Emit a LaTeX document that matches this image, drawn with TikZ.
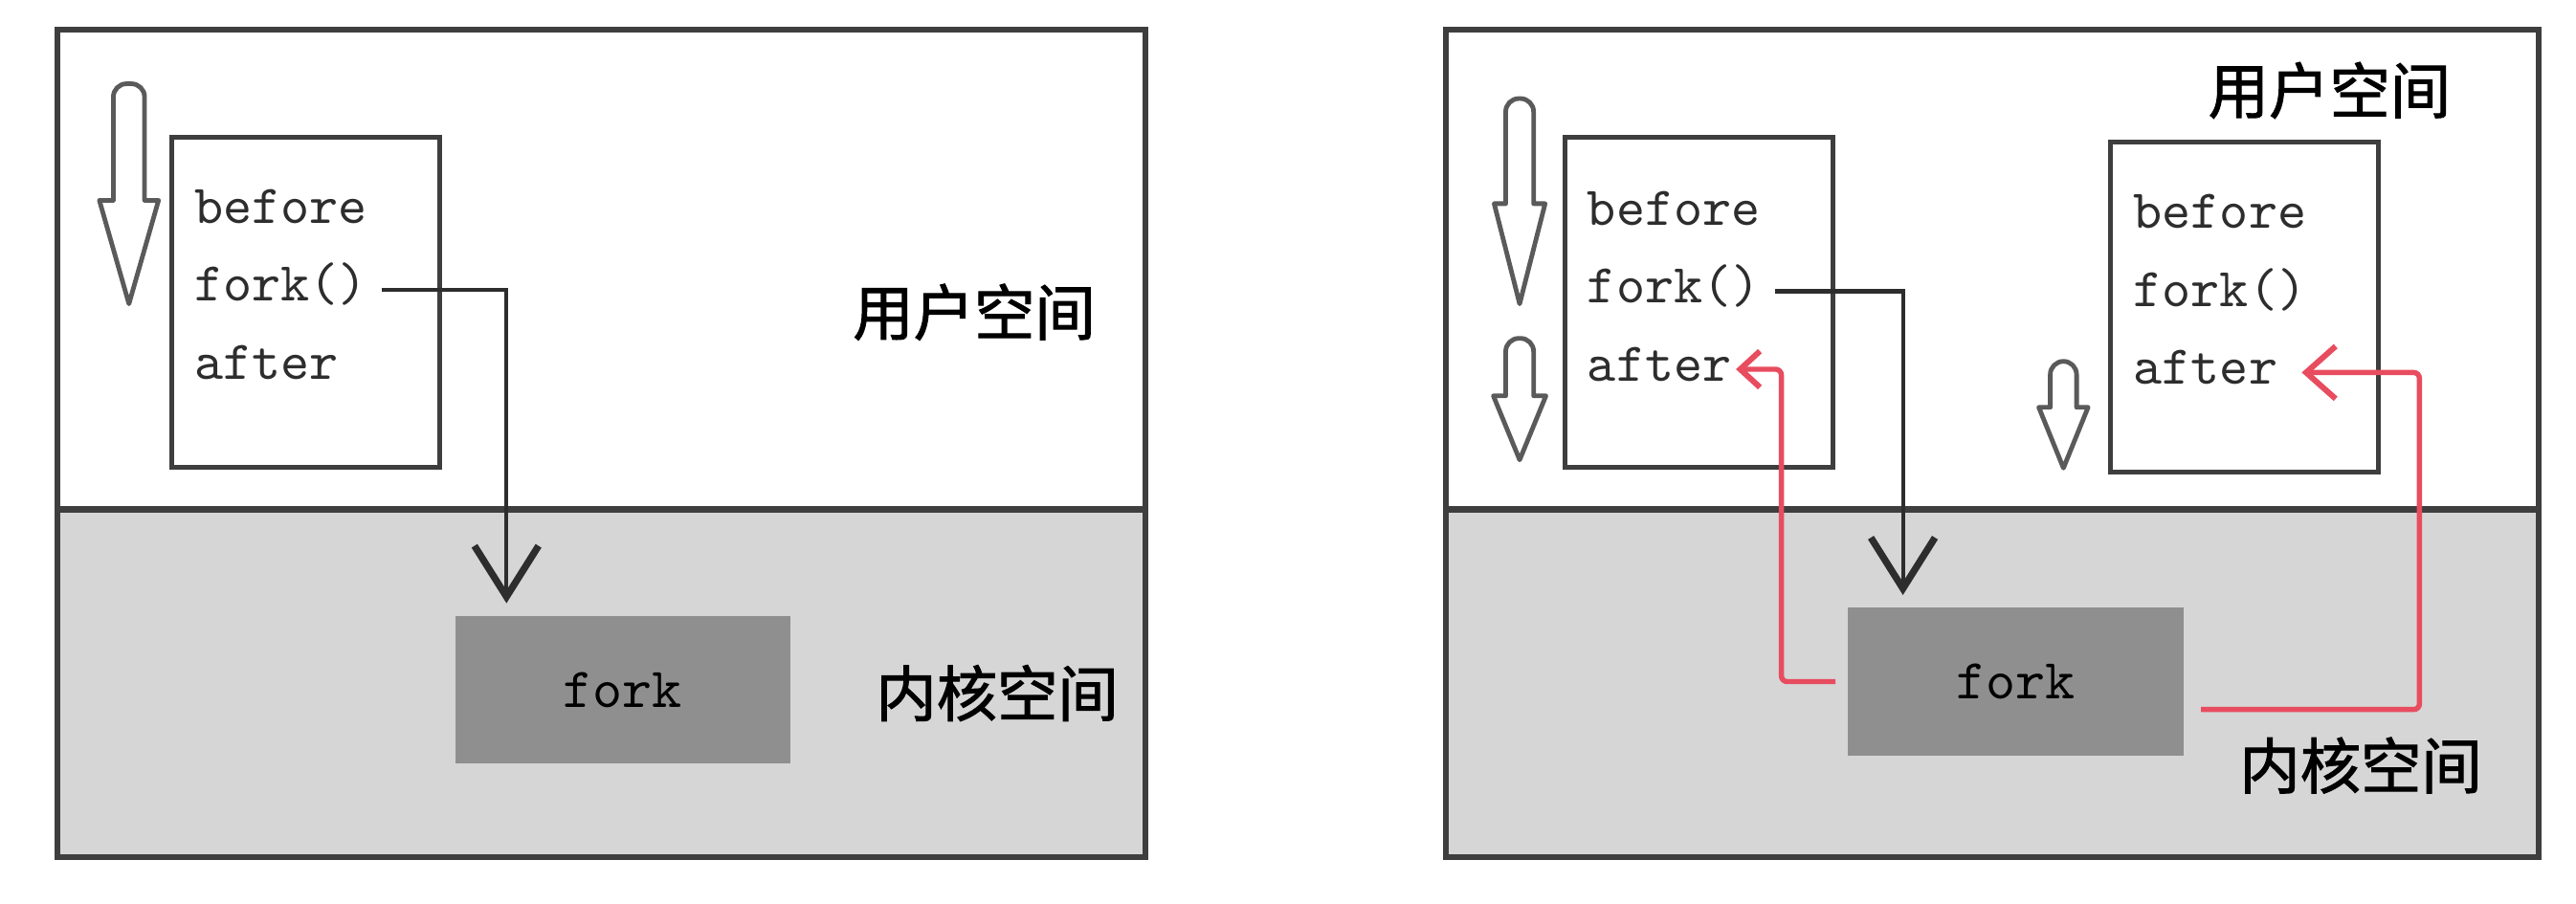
\documentclass[tikz,border=0pt]{standalone}
\usepackage{fontspec}
\usepackage{xcolor}
\usepackage{tikz}
\usetikzlibrary{arrows.meta, positioning}
\newfontfamily\cjk[FakeBold=1.6]{Noto Sans CJK SC}
\definecolor{framegray}{RGB}{62,62,62}
\definecolor{inkgray}{RGB}{45,45,45}
\definecolor{kernelfill}{RGB}{214,214,214}
\definecolor{forkfill}{RGB}{143,143,143}
\definecolor{redline}{RGB}{232,76,95}
\definecolor{flowgray}{RGB}{90,90,90}
\tikzset{
  panel/.style={draw=framegray, line width=1pt},
  divider/.style={draw=framegray, line width=1.1pt},
  codebox/.style={rectangle, draw=framegray, fill=white, line width=0.9pt,
    minimum width=16.3mm, minimum height=20.1mm, inner sep=0pt, anchor=north west},
  codeline/.style={font=\ttfamily\fontsize{9.5}{11}\selectfont, text=inkgray,
    inner sep=0pt, text height=2.2mm, text depth=0.8mm},
  forkbox/.style={rectangle, fill=forkfill, minimum width=20.4mm, minimum height=9mm,
    inner sep=0pt, font=\ttfamily\fontsize{9.8}{11}\selectfont, text=black},
  spacelabel/.style={font=\cjk\fontsize{10.5}{12}\selectfont, inner sep=0pt, text=black},
  callarrow/.style={-{Straight Barb[length=3.1mm, width=3.9mm, line width=1.2pt]},
    draw=inkgray, line width=0.7pt},
  retarrow/.style={-{Straight Barb[length=1.2mm, width=2.2mm, line width=1pt]},
    draw=redline, line width=0.9pt, rounded corners=1pt},
  flowmark/.style={draw=flowgray, fill=white, line width=0.8pt, line join=round}
}
% hollow down arrow: centre x, top y, head start y, tip y, half shaft, half head
\newcommand{\downflow}[6]{%
  \draw[flowmark] (#1-#5,#3) [rounded corners=0.8mm] -- (#1-#5,#2) -- (#1+#5,#2)
    [sharp corners] -- (#1+#5,#3) -- (#1+#6,#3) -- (#1,#4) -- (#1-#6,#3) -- cycle;}

\begin{document}
\begin{tikzpicture}[x=0.1mm, y=-0.1mm, node distance=1.6mm]
  \useasboundingbox[fill=white] (0,0) rectangle (1568,550);

  %% left panel: before fork
  \fill[kernelfill] (35,310) rectangle (697,522);
  \draw[panel] (35,18) rectangle (697,522);
  \draw[divider] (35,310) -- (697,310);

  % program
  \node[codebox] (lcode) at (103,82) {};
  \node[codeline, anchor=base west] (lbefore) at (117.6,136) {before};
  \node[codeline, below=of lbefore.south west, anchor=north west] (lfork) {fork()};
  \node[codeline, below=of lfork.south west, anchor=north west] (lafter) {after};
  \downflow{78.5}{51}{122}{185}{9.5}{18}

  % kernel
  \node[forkbox] (lkern) at (379,420) {fork};

  % labels
  \node[spacelabel] (luser) at (593,190) {用户空间};
  \node[spacelabel] (lkernlab) at (607,422) {内核空间};

  % call
  \draw[callarrow] ([xshift=0.8mm]lfork.east) -| ([xshift=3.2mm, yshift=0.7mm]lkern.north west);

  %% right panel: after fork
  \fill[kernelfill] (880,310) rectangle (1545,522);
  \draw[panel] (880,18) rectangle (1545,522);
  \draw[divider] (880,310) -- (1545,310);

  % parent
  \node[codebox] (pcode) at (951,82) {};
  \node[codeline, anchor=base west] (pbefore) at (965.6,137) {before};
  \node[codeline, below=of pbefore.south west, anchor=north west] (pfork) {fork()};
  \node[codeline, below=of pfork.south west, anchor=north west] (pafter) {after};
  \downflow{925}{60}{124}{185}{8.5}{15.5}
  \downflow{925}{206}{241}{280}{8.5}{16}

  % child
  \node[codebox] (ccode) at (1283,85) {};
  \node[codeline, anchor=base west] (cbefore) at (1298,139) {before};
  \node[codeline, below=of cbefore.south west, anchor=north west] (cfork) {fork()};
  \node[codeline, below=of cfork.south west, anchor=north west] (cafter) {after};
  \downflow{1256}{220}{248}{285}{8}{15}

  % kernel
  \node[forkbox] (rkern) at (1227,415) {fork};

  % labels
  \node[spacelabel] (ruser) at (1418,55) {用户空间};
  \node[spacelabel] (rkernlab) at (1437,466) {内核空间};

  % call and the two returns
  \draw[callarrow] ([xshift=0.8mm]pfork.east) -| ([xshift=3.4mm, yshift=0.7mm]rkern.north west);
  \draw[retarrow] ([xshift=-0.7mm]rkern.west) -- ++(-33,0) |- ([xshift=0.2mm]pafter.east);
  \draw[retarrow, -{Straight Barb[length=1.8mm, width=3.2mm, line width=1pt]}]
    ([xshift=1mm, yshift=-1.7mm]rkern.east) -- ++(133,0) |- ([xshift=1.4mm]cafter.east);
\end{tikzpicture}
\end{document}
